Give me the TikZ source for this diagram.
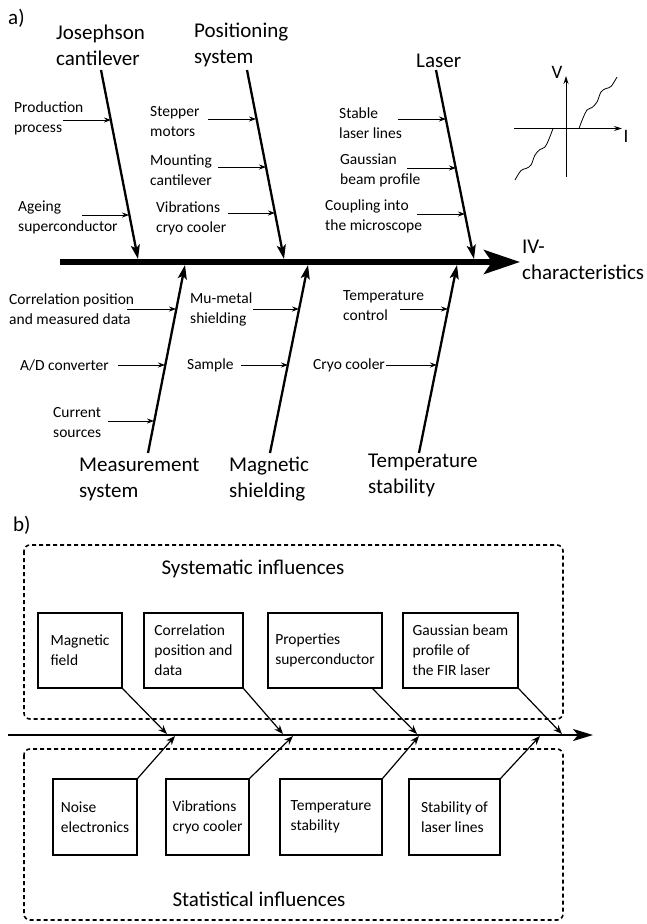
\documentclass[tikz,border=0pt]{standalone}
\usepackage{fontspec}
\setmainfont{Carlito}
\usetikzlibrary{positioning,arrows.meta,calc}

\begin{document}
\begin{tikzpicture}[x=1pt,y=-1pt,
    small/.style={font=\fontsize{15.5}{20}\selectfont,align=left,inner sep=0pt,anchor=west},
    big/.style={font=\fontsize{21}{26}\selectfont,align=left,inner sep=0pt,anchor=west},
    spine/.style={line width=5.5pt,-{Stealth[length=36pt,width=24pt,inset=8pt]}},
    bone/.style={line width=2.3pt,-{Stealth[length=14pt,width=9pt,inset=3pt]}},
    cause/.style={line width=0.8pt,-{Stealth[length=7pt,width=5pt]}},
    axis/.style={line width=0.8pt,-{Stealth[length=8pt,width=5pt]}},
    infl/.style={draw,line width=1.2pt,minimum height=75pt,inner sep=0pt,align=left,font=\fontsize{15.5}{20}\selectfont},
    group/.style={line width=1.6pt,dash pattern=on 4pt off 3pt,rounded corners=6pt},
    link/.style={line width=1.2pt,-{Stealth[length=9pt,width=7pt]}}]
    \useasboundingbox (0,0) rectangle (646,924);

    % a) fishbone
    \node[big] (la) at (8,18) {a)};

    % Spine
    \coordinate (sa) at (60,262);
    \coordinate (ea) at (520,262);
    \draw[spine] (sa) -- (ea);
    \node[big] (iv) at (522,260) {IV-\\characteristics};

    % Main causes
    \node[big] (jos) at (56,45) {Josephson\\cantilever};
    \node[big] (pos) at (194,45) {Positioning\\system};
    \node[big] (las) at (416,61) {Laser};
    \node[big] (mea) at (79,479) {Measurement\\system};
    \node[big] (mag) at (229,479) {Magnetic\\shielding};
    \node[big] (tem) at (368,475) {Temperature\\stability};

    \coordinate (jt) at (101,70);  \coordinate (jb) at (138,259);
    \coordinate (pt) at (247,70);  \coordinate (pb) at (284,259);
    \coordinate (lt) at (436,70);  \coordinate (lb) at (474,259);
    \coordinate (mb) at (148,453); \coordinate (mt) at (185,265);
    \coordinate (gb) at (270,453); \coordinate (gt) at (308,265);
    \coordinate (tb) at (419,453); \coordinate (tt) at (457,265);
    \draw[bone] (jt) -- (jb);
    \draw[bone] (pt) -- (pb);
    \draw[bone] (lt) -- (lb);
    \draw[bone] (mb) -- (mt);
    \draw[bone] (gb) -- (gt);
    \draw[bone] (tb) -- (tt);

    % Sub causes
    \foreach \i/\txt/\tx/\ty/\ax/\ay/\bx in {
        1/{Production\\process}/14/118/63/120/111,
        2/{Ageing\\superconductor}/18/217/82/215/129,
        3/{Stepper\\motors}/150/122/208/119/256,
        4/{Mounting\\cantilever}/150/170/218/167/266,
        5/{Vibrations\\cryo cooler}/156/218/228/213/275,
        6/{Stable\\laser lines}/339/123/398/119/446,
        7/{Gaussian\\beam profile}/340/170/407/168/456,
        8/{Coupling into\\the microscope}/325/216/417/214/465,
        9/{Correlation position\\and measured data}/9/309/127/309/176,
        10/{A/D converter}/20/365/118/365/165,
        11/{Current\\sources}/53/423/108/421/154,
        12/{Mu-metal\\shielding}/190/309/253/309/299,
        13/{Sample}/187/365/241/365/288,
        14/{Temperature\\control}/343/306/400/309/448,
        15/{Cryo cooler}/313/365/386/365/437}{
        \node[small] (c\i) at (\tx,\ty) {\txt};
        \coordinate (cs\i) at (\ax,\ay);
        \coordinate (ce\i) at (\bx,\ay);
        \draw[cause] (cs\i) -- (ce\i);
    }

    % IV curve
    \coordinate (il) at (514,128.5);
    \coordinate (ir) at (622,128.5);
    \coordinate (vb) at (566,177);
    \coordinate (vt) at (566,76);
    \draw[axis] (il) -- (ir);
    \draw[axis] (vb) -- (vt);
    \node[font=\fontsize{19}{22}\selectfont,inner sep=0pt] (vl) at (557,72) {V};
    \node[font=\fontsize{19}{22}\selectfont,inner sep=0pt] (il) at (626,136) {I};
    \draw[line width=0.8pt] plot[smooth,tension=0.6] coordinates {(579,128.5) (583,118) (587,110) (592,107.5) (597,102) (601,92) (606,88.5) (611,86.5) (617,77)};
    \draw[line width=0.8pt] plot[smooth,tension=0.6] coordinates {(553,128.5) (549,139) (545,147) (540,149.5) (535,155) (531,165) (526,168.5) (521,170.5) (515,180)};

    % b) influences
    \node[big] (lb) at (13,525) {b)};
    \draw[group] (24,545) rectangle (563,719);
    \draw[group] (24,749) rectangle (563,920);
    \node[big,anchor=center] (sys) at (253,569) {Systematic influences};
    \node[big,anchor=center] (sta) at (259,899) {Statistical influences};

    \coordinate (bs) at (8,735);
    \coordinate (be) at (593,735);
    \draw[line width=2pt,-{Stealth[length=20pt,width=12pt,inset=5pt]}] (bs) -- (be);

    % Systematic
    \node[infl,minimum width=84pt] (s1) at (80,650.5) {Magnetic\\field};
    \node[infl,minimum width=99pt] (s2) at (193.5,650.5) {Correlation\\position and\\data};
    \node[infl,minimum width=114pt] (s3) at (325,650.5) {Properties\\superconductor};
    \node[infl,minimum width=115pt] (s4) at (460.5,650.5) {Gaussian beam\\profile of\\the FIR laser};
    \coordinate (u1) at (167,734);
    \coordinate (u2) at (283,734);
    \coordinate (u3) at (417,734);
    \coordinate (u4) at (562,734);
    \draw[link] (s1.south east) -- (u1);
    \draw[link] (s2.south east) -- (u2);
    \draw[link] ([xshift=-10pt]s3.south east) -- (u3);
    \draw[link] (s4.south east) -- (u4);

    % Statistical
    \node[infl,minimum width=84pt,minimum height=76pt] (r1) at (95,817) {Noise\\electronics};
    \node[infl,minimum width=83pt,minimum height=76pt] (r2) at (207.5,817) {Vibrations\\cryo cooler};
    \node[infl,minimum width=102pt,minimum height=76pt] (r3) at (331,817) {Temperature\\stability};
    \node[infl,minimum width=91pt,minimum height=76pt] (r4) at (454.5,817) {Stability of\\laser lines};
    \coordinate (d1) at (175,736);
    \coordinate (d2) at (293,736);
    \coordinate (d3) at (419,736);
    \coordinate (d4) at (540,736);
    \draw[link] (r1.north east) -- (d1);
    \draw[link] (r2.north east) -- (d2);
    \draw[link] (r3.north east) -- (d3);
    \draw[link] (r4.north east) -- (d4);
\end{tikzpicture}
\end{document}
